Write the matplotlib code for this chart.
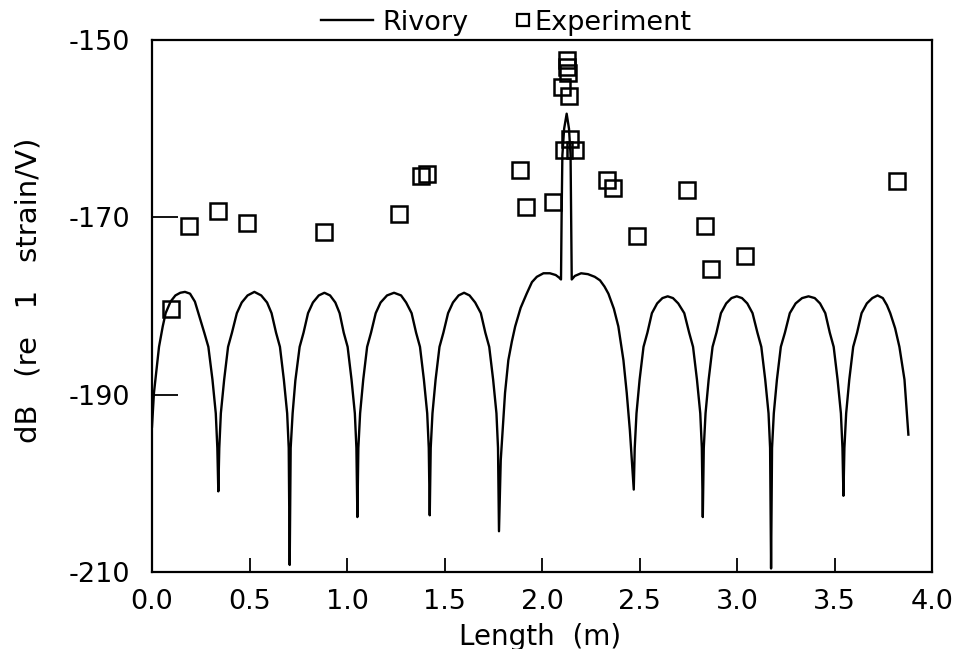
import matplotlib
matplotlib.use("Agg")
import matplotlib.pyplot as plt
from matplotlib.lines import Line2D

plt.rcParams['font.family'] = ['DejaVu Sans']
plt.rcParams['axes.unicode_minus'] = False

# Rivory model curve (m, dB)
rivory_x = [
    0.000, 0.010, 0.036, 0.055, 0.070, 0.095, 0.120, 0.145, 0.169, 0.195, 0.220, 0.238, 0.268, 0.289, 0.310, 0.327, 0.335, 0.340,
    0.345, 0.353, 0.370, 0.390, 0.410, 0.435, 0.460, 0.490, 0.525, 0.560, 0.590, 0.613, 0.636, 0.656, 0.676, 0.693, 0.701, 0.706,
    0.711, 0.721, 0.735, 0.757, 0.777, 0.800, 0.825, 0.855, 0.884, 0.913, 0.940, 0.962, 0.983, 1.003, 1.023, 1.040, 1.048, 1.053,
    1.058, 1.067, 1.083, 1.103, 1.123, 1.147, 1.172, 1.205, 1.241, 1.277, 1.303, 1.331, 1.354, 1.374, 1.394, 1.411, 1.419, 1.424,
    1.429, 1.438, 1.454, 1.474, 1.494, 1.518, 1.543, 1.572, 1.600, 1.628, 1.657, 1.686, 1.709, 1.729, 1.749, 1.766, 1.774, 1.779,
    1.788, 1.810, 1.827, 1.845, 1.862, 1.890, 1.921, 1.948, 1.973, 2.007, 2.040, 2.070, 2.088, 2.097, 2.100, 2.104, 2.113, 2.126,
    2.138, 2.146, 2.149, 2.152, 2.168, 2.200, 2.235, 2.270, 2.297, 2.320, 2.340, 2.368, 2.391, 2.417, 2.434, 2.450, 2.460, 2.470,
    2.475, 2.484, 2.500, 2.520, 2.540, 2.563, 2.590, 2.617, 2.644, 2.671, 2.698, 2.729, 2.754, 2.774, 2.794, 2.811, 2.819, 2.824,
    2.829, 2.838, 2.854, 2.874, 2.894, 2.917, 2.944, 2.971, 2.998, 3.025, 3.052, 3.079, 3.104, 3.124, 3.144, 3.161, 3.169, 3.174,
    3.179, 3.188, 3.204, 3.224, 3.245, 3.270, 3.300, 3.333, 3.366, 3.398, 3.425, 3.452, 3.475, 3.495, 3.515, 3.532, 3.540, 3.545,
    3.550, 3.559, 3.575, 3.595, 3.615, 3.638, 3.665, 3.693, 3.720, 3.747, 3.768, 3.785, 3.810, 3.832, 3.858, 3.878,
]
rivory_db = [
    -193.6, -189.8, -184.6, -182.3, -180.8, -179.5, -178.8, -178.5, -178.4, -178.6, -179.5, -180.8, -183.0, -184.6, -188.3, -192.1, -196.0, -200.9,
    -196.0, -192.1, -188.3, -184.6, -183.0, -180.8, -179.6, -178.8, -178.4, -178.8, -179.6, -180.8, -183.0, -184.6, -188.3, -192.1, -196.0, -209.2,
    -196.0, -192.1, -188.4, -184.6, -183.0, -180.8, -179.6, -178.8, -178.5, -178.8, -179.6, -180.8, -183.0, -184.6, -188.3, -192.1, -196.0, -203.8,
    -196.0, -192.1, -188.3, -184.6, -183.0, -180.8, -179.6, -178.8, -178.5, -178.8, -179.6, -180.8, -183.0, -184.6, -188.3, -192.1, -196.0, -203.6,
    -196.0, -192.1, -188.3, -184.6, -183.0, -180.8, -179.6, -178.8, -178.5, -178.8, -179.6, -180.8, -183.0, -184.6, -188.3, -192.1, -196.0, -205.4,
    -197.4, -189.8, -186.1, -184.0, -182.3, -180.2, -178.6, -177.3, -176.7, -176.3, -176.3, -176.5, -176.8, -177.0, -170.0, -163.0, -160.0, -158.3,
    -160.0, -163.0, -170.0, -177.0, -176.6, -176.3, -176.4, -176.7, -177.1, -177.8, -178.6, -180.3, -182.3, -186.1, -189.8, -194.0, -197.4, -200.7,
    -196.0, -192.1, -188.3, -184.6, -183.0, -180.8, -179.7, -179.1, -178.9, -179.1, -179.7, -180.8, -183.0, -184.6, -188.3, -192.1, -196.0, -203.8,
    -196.0, -192.1, -188.3, -184.6, -183.0, -180.8, -179.7, -179.1, -178.9, -179.1, -179.7, -180.8, -183.0, -184.6, -188.3, -192.1, -196.0, -209.6,
    -196.0, -192.1, -188.3, -184.6, -183.0, -180.8, -179.7, -179.1, -178.9, -179.1, -179.7, -180.8, -183.0, -184.6, -188.3, -192.1, -196.0, -201.4,
    -196.0, -192.1, -188.3, -184.6, -183.0, -180.8, -179.7, -179.1, -178.8, -179.1, -179.9, -180.8, -182.5, -184.6, -188.3, -194.5,
]

# measured points
exp_x = [0.096, 0.19, 0.34, 0.489, 0.884, 1.265, 1.379, 1.412, 1.887, 1.918, 2.055,
         2.130, 2.130, 2.135, 2.104, 2.140, 2.144, 2.110, 2.169,
         2.332, 2.363, 2.487, 2.742, 2.837, 2.867, 3.041, 3.82]
exp_db = [-180.3, -171.0, -169.3, -170.6, -171.6, -169.6, -165.3, -165.1, -164.6, -168.8, -168.3,
          -152.3, -153.0, -153.7, -155.3, -156.3, -161.1, -162.4, -162.4,
          -165.8, -166.7, -172.1, -166.9, -171.0, -175.8, -174.4, -165.9]

fig = plt.figure(figsize=(9.62, 6.49), dpi=100)
ax = fig.add_axes([0.158, 0.1186, 0.811, 0.8196])

ax.plot(rivory_x, rivory_db, color='black', lw=1.7)
ax.plot(exp_x, exp_db, ls='none', marker='s', ms=11, mfc='none', mec='black', mew=1.8)

ax.set_xlim(0, 4.0)
ax.set_ylim(-210, -150)
ax.set_xticks([0.0, 0.5, 1.0, 1.5, 2.0, 2.5, 3.0, 3.5, 4.0])
ax.set_xticklabels(['0.0', '0.5', '1.0', '1.5', '2.0', '2.5', '3.0', '3.5', '4.0'])
ax.set_yticks([-210, -190, -170, -150])
ax.set_yticklabels(['-210', '-190', '-170', '-150'])
ax.tick_params(axis='x', direction='in', length=10, width=1.3, labelsize=19.5, pad=12)
ax.tick_params(axis='y', direction='in', length=19, width=1.3, labelsize=19.5, pad=16)
for s in ax.spines.values():
    s.set_linewidth(1.6)

ax.set_xlabel('Length  (m)', fontsize=20)
ax.set_ylabel('dB   (re   1   strain/V)', fontsize=21)
ax.xaxis.set_label_coords(0.497, -0.095)
ax.yaxis.set_label_coords(-0.14, 0.53)

line_h = Line2D([], [], color='black', lw=1.7)
mark_h = Line2D([], [], ls='none', marker='s', ms=8, mfc='none', mec='black', mew=1.6)
leg1 = fig.legend([line_h], ['Rivory'], loc='center left', bbox_to_anchor=(0.334, 0.965),
                  frameon=False, fontsize=19.5, handlelength=1.9, handletextpad=0.35,
                  borderaxespad=0, borderpad=0)
leg2 = fig.legend([mark_h], ['Experiment'], loc='center left', bbox_to_anchor=(0.537, 0.965),
                  frameon=False, fontsize=19.5, handlelength=0.45, handletextpad=0.2,
                  borderaxespad=0, borderpad=0)

fig.savefig('out.png', dpi=100)
